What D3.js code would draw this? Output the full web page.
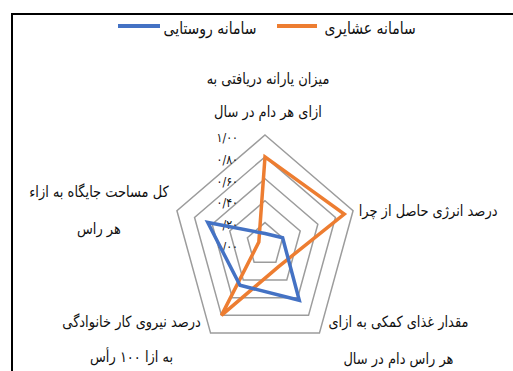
<!DOCTYPE html>
<meta charset="utf-8">
<style>
body { margin: 0; background-color: #fff; }
text { font-family: "DejaVu Sans", sans-serif; fill: #111; }
.grid { fill: none; stroke: #9c9c9c; stroke-width: 1.5px; }
.series { fill: none; stroke-width: 3.5px; stroke-linejoin: miter; }
.tick { font-size: 11px; }
.cat { font-size: 13px; }
.legend text { font-size: 14px; }
</style>
<body>
<svg width="513" height="371"></svg>
<script src="https://cdn.jsdelivr.net/npm/d3@7"></script>
<script>

var categories = [
  ["میزان یارانه دریافتی به", "ازای هر دام در سال"],
  ["درصد انرژی حاصل از چرا"],
  ["مقدار غذای کمکی به ازای", "هر راس دام در سال"],
  ["درصد نیروی کار خانوادگی", "به ازا ۱۰۰ رأس"],
  ["کل مساحت جایگاه به ازاء", "هر راس"]
];
var seriesNames = ["سامانه عشایری", "سامانه روستایی"];
var nomadic = [0.80, 0.90, 0.25, 0.80, 0.07];
var rural   = [0.10, 0.20, 0.63, 0.46, 0.65];
var tickValues = [0, 0.2, 0.4, 0.6, 0.8, 1.0];
var tickLabels = ["۰/۰۰", "۰/۲۰", "۰/۴۰", "۰/۶۰", "۰/۸۰", "۱/۰۰"];
var colors = ["#ed7d31", "#4472c4"];

var cx = 265, cy = 244.5;
// picture is stretched vertically, so two radii
var rx = d3.scaleLinear().domain([0, 1]).range([0, 92.6]);
var ry = d3.scaleLinear().domain([0, 1]).range([0, 109.5]);
var n = categories.length;
var angle = function(i) { return -Math.PI / 2 + i * 2 * Math.PI / n; };
var px = function(v, i) { return cx + rx(v) * Math.cos(angle(i)); };
var py = function(v, i) { return cy + ry(v) * Math.sin(angle(i)); };

var svg = d3.select("svg");

// frame
svg.append("rect")
  .attr("x", 12).attr("y", 14)
  .attr("width", 540).attr("height", 400)
  .attr("fill", "none").attr("stroke", "#000").attr("stroke-width", 2);

var ring = d3.line().curve(d3.curveLinearClosed);

// grid rings
svg.selectAll(".grid").data(tickValues.filter(function(d) { return d > 0; }))
  .enter().append("path")
  .attr("class", "grid")
  .attr("d", function(v) {
    return ring(categories.map(function(c, i) { return [px(v, i), py(v, i)]; }));
  });

// value labels
svg.selectAll(".tick").data(tickValues)
  .enter().append("text")
  .attr("class", "tick")
  .attr("text-anchor", "end")
  .attr("dominant-baseline", "middle")
  .attr("transform", function(v) {
    return "translate(" + (cx - 27) + "," + (py(v, 0) + 3) + ") scale(1,1.18)";
  })
  .text(function(v, i) { return tickLabels[i]; });

// series
[nomadic, rural].forEach(function(vals, s) {
  svg.append("path")
    .attr("class", "series")
    .attr("stroke", colors[s])
    .attr("d", ring(vals.map(function(v, i) { return [px(v, i), py(v, i)]; })));
});

// category labels, offsets from outer vertex
var labelOffset = [[3, -55], [75, 1], [79, -10], [-79, -10], [-78, -18]];
var lineGap = [33, 0, 37, 35, 37];
categories.forEach(function(lines, i) {
  var x0 = px(1, i) + labelOffset[i][0], y0 = py(1, i) + labelOffset[i][1];
  lines.forEach(function(t, k) {
    svg.append("text")
      .attr("class", "cat")
      .attr("text-anchor", "middle")
      .attr("dominant-baseline", "middle")
      .attr("transform", "translate(" + x0 + "," + (y0 + k * lineGap[i]) + ") scale(1,1.18)")
      .text(t);
  });
});

// legend (right to left)
var legend = svg.append("g").attr("class", "legend");
var legX = [[277, 317, 370], [118, 160, 210]];
seriesNames.forEach(function(name, s) {
  legend.append("line")
    .attr("x1", legX[s][0]).attr("x2", legX[s][1])
    .attr("y1", 26).attr("y2", 26)
    .attr("stroke", colors[s]).attr("stroke-width", 4);
  legend.append("text")
    .attr("text-anchor", "middle")
    .attr("dominant-baseline", "middle")
    .attr("transform", "translate(" + legX[s][2] + ",29) scale(1,1.18)")
    .text(name);
});

</script>
</body>
